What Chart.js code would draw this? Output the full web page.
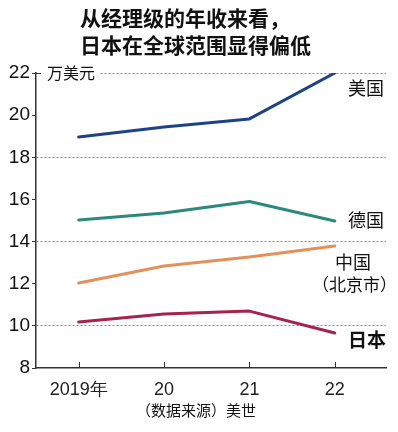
<!DOCTYPE html>
<html>
<head>
<meta charset="utf-8">
<script src="https://cdn.jsdelivr.net/npm/chart.js@4"></script>
<style>
  body { margin: 0; background: #fff; }
  #wrap { width: 398px; height: 432px; }
</style>
</head>
<body>
<div id="wrap"><canvas id="myChart" width="398" height="432"></canvas></div>
<script>
var years = [2019, 2020, 2021, 2022];
var yearLabels = ['2019年', '20', '21', '22'];
var usVals = [18.96, 19.44, 19.82, 22.0];
var deVals = [15.02, 15.36, 15.9, 14.98];
var cnVals = [12.03, 12.84, 13.27, 13.79];
var jpVals = [10.18, 10.56, 10.7, 9.66];
var dottedTicks = [22, 18, 14, 10];

var cjk = '"Noto Sans CJK SC", sans-serif';
var num = '"Liberation Sans Narrow", "Liberation Sans", sans-serif';

function pts(vals) {
  var out = [];
  for (var i = 0; i < years.length; i++) out.push({x: years[i], y: vals[i]});
  return out;
}

function ds(vals, color) {
  return {
    data: pts(vals),
    borderColor: color,
    borderWidth: 3,
    pointRadius: 0,
    tension: 0,
    borderCapStyle: 'round',
    borderJoinStyle: 'round'
  };
}

var extras = {
  id: 'extras',
  beforeDatasetsDraw: function(chart) {
    // blank out the top grid line behind the unit label
    var c = chart.ctx;
    c.save();
    c.fillStyle = '#fff';
    c.fillRect(chart.scales.x.left + 2, chart.scales.y.top - 3, 62, 6);
    c.restore();
  },
  afterDraw: function(chart) {
    var c = chart.ctx;
    var xs = chart.scales.x, ys = chart.scales.y;
    c.save();
    // x ticks pointing up
    c.strokeStyle = '#333';
    c.lineWidth = 1;
    for (var i = 0; i < years.length; i++) {
      var px = Math.round(xs.getPixelForValue(years[i])) + 0.5;
      c.beginPath();
      c.moveTo(px, ys.bottom);
      c.lineTo(px, ys.bottom - 6);
      c.stroke();
    }
    // tick on top of y axis pointing right
    c.beginPath();
    c.moveTo(xs.left, ys.top + 0.5);
    c.lineTo(xs.left + 5, ys.top + 0.5);
    c.stroke();

    c.fillStyle = '#111';
    c.textBaseline = 'middle';
    // title
    c.textAlign = 'left';
    c.font = 'bold 21px ' + cjk;
    c.fillText('从经理级的年收来看，', 80, 18);
    c.fillText('日本在全球范围显得偏低', 80, 45);
    // unit
    c.font = '16px ' + cjk;
    c.fillText('万美元', 47, 73);
    // series labels
    c.font = '18px ' + cjk;
    c.fillText('美国', 348, 88);
    c.fillText('德国', 348, 220);
    c.fillText('中国', 335, 262);
    c.font = '17px ' + cjk;
    c.fillText('（北京市）', 312, 285);
    c.font = 'bold 19px ' + cjk;
    c.fillText('日本', 348, 340);
    // source
    c.font = '15px ' + cjk;
    c.textAlign = 'center';
    c.fillText('（数据来源）美世', 196, 410);
    c.restore();
  }
};

var ctx = document.getElementById('myChart').getContext('2d');

var myChart = new Chart(ctx, {
  type: 'line',
  data: {
    datasets: [
      ds(usVals, '#1d4386'),
      ds(deVals, '#2a8a7e'),
      ds(cnVals, '#e3915a'),
      ds(jpVals, '#a6234c')
    ]
  },
  options: {
    responsive: false,
    animation: false,
    layout: { padding: { top: 73, right: 12, left: 0, bottom: 0 } },
    plugins: {
      legend: { display: false },
      tooltip: { enabled: false }
    },
    scales: {
      x: {
        type: 'linear',
        min: 2018.5,
        max: 2022.6,
        afterBuildTicks: function(s) {
          s.ticks = years.map(function(v) { return {value: v}; });
        },
        afterFit: function(s) { s.height = 64; },
        grid: { display: false, drawTicks: false },
        border: { display: true, color: '#333', width: 1.5 },
        ticks: {
          padding: 11,
          color: '#222',
          font: { size: 18, family: num },
          callback: function(v) {
            var i = years.indexOf(v);
            return i >= 0 ? yearLabels[i] : '';
          }
        }
      },
      y: {
        min: 8,
        max: 22,
        afterFit: function(s) { s.width = 36; },
        grid: {
          color: function(c) {
            return dottedTicks.indexOf(c.tick.value) >= 0 ? '#8a8a8a' : 'rgba(0,0,0,0)';
          },
          lineWidth: 1,
          tickLength: 4,
          tickColor: '#333',
          tickBorderDash: []
        },
        border: { display: true, color: '#333', width: 1.5, dash: [2, 2] },
        ticks: {
          stepSize: 2,
          padding: 2,
          color: '#111',
          font: { size: 19, family: num }
        }
      }
    }
  },
  plugins: [extras]
});
</script>
</body>
</html>
